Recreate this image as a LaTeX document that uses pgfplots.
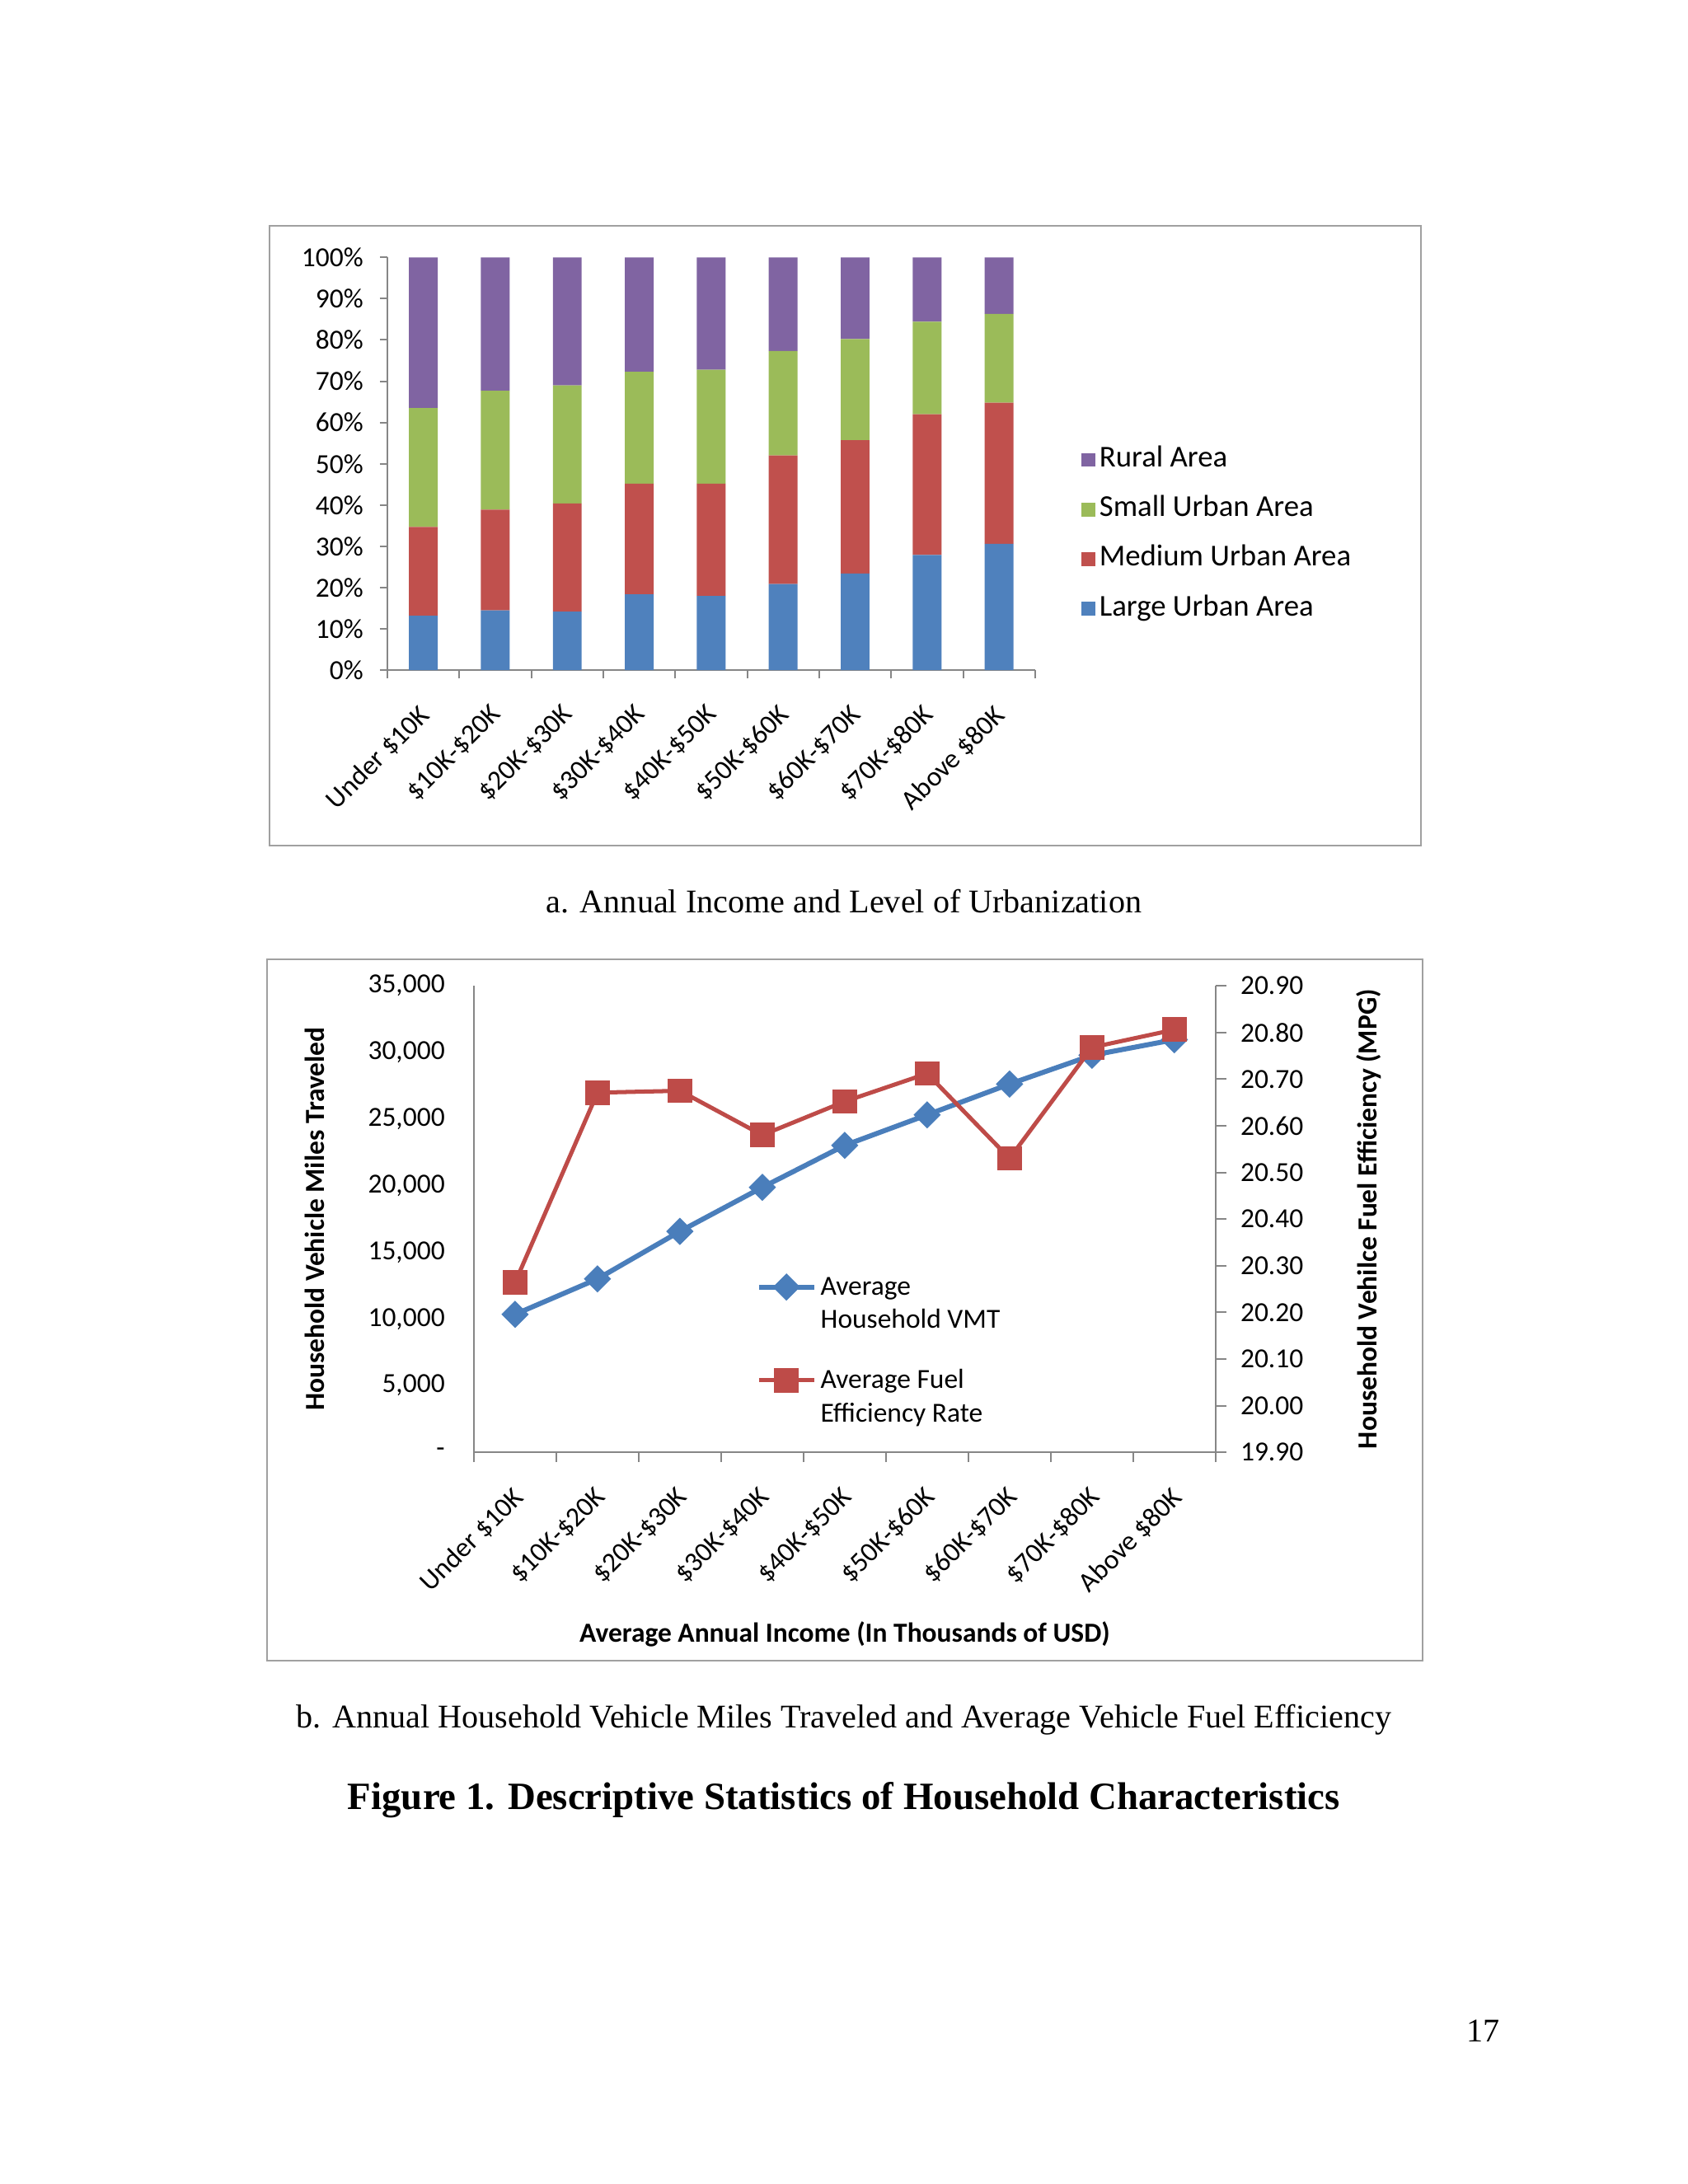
\documentclass[border=0pt]{standalone}
\usepackage{fontspec}
\setmainfont{Liberation Serif}
\newfontfamily\calibri{Carlito}
\usepackage{pgfplots}
\usepackage{pgfplotstable}
\pgfplotsset{compat=1.18}

\definecolor{large}{HTML}{4F81BD}
\definecolor{medium}{HTML}{C0504D}
\definecolor{small}{HTML}{9BBB59}
\definecolor{rural}{HTML}{8064A2}
\definecolor{vmt}{HTML}{4A7EBB}
\definecolor{mpg}{HTML}{BE4B48}
\definecolor{axisgray}{HTML}{868686}
\definecolor{framegray}{HTML}{A0A0A0}

% share of households by level of urbanization (percent)
\pgfplotstableread{
idx large medium small rural
0 13.2 21.5 28.8 36.5
1 14.5 24.4 28.8 32.3
2 14.2 26.2 28.6 31.0
3 18.4 26.8 27.1 27.7
4 18.0 27.2 27.6 27.2
5 20.9 31.1 25.3 22.7
6 23.4 32.3 24.5 19.8
7 27.9 34.1 22.4 15.6
8 30.6 34.2 21.5 13.7
}\urban

% average household VMT and fuel efficiency
\pgfplotstableread{
idx vmt mpg
0 10350 20.264
1 13010 20.671
2 16575 20.675
3 19880 20.580
4 23030 20.652
5 25320 20.712
6 27630 20.530
7 29790 20.768
8 30960 20.806
}\travel

\def\incomes{Under \$10K,\$10K-\$20K,\$20K-\$30K,\$30K-\$40K,\$40K-\$50K,\$50K-\$60K,\$60K-\$70K,\$70K-\$80K,Above \$80K}

\pgfplotsset{
  chartbase/.style={
    scale only axis,
    anchor=south west,
    xmin=-0.5, xmax=8.5,
    font=\calibri\fontsize{10}{12}\selectfont,
    /pgf/number format/assume math mode=true,
    scaled y ticks=false,
    axis line style={axisgray, line width=0.6pt},
    tick style={axisgray, line width=0.6pt},
    tick align=outside,
    xtick={0,...,8},
    minor xtick={-0.5,0.5,...,8.5},
    major x tick style={draw=none},
    legend style={draw=none, fill=none},
    legend cell align=left,
  },
  vmtstyle/.style={vmt, line width=1.8pt, mark=square*, mark size=2.6pt, mark options={rotate=45}},
  mpgstyle/.style={mpg, line width=1.5pt, mark=square*, mark size=3.7pt},
}

\begin{document}
\begin{tikzpicture}
\fill[white] (0pt,0pt) rectangle (612pt,792pt);

% chart frames
\draw[framegray, line width=0.6pt] (97.72pt,485.30pt) rectangle (515.18pt,710.02pt);
\draw[framegray, line width=0.6pt] (96.97pt,189.76pt) rectangle (515.78pt,444.06pt);

% a. stacked bars
\begin{axis}[
  chartbase,
  at={(140.45pt,548.95pt)},
  width=234.88pt, height=149.71pt,
  ybar stacked, bar width=0.4,
  ymin=0, ymax=100,
  axis x line*=bottom, axis y line*=left,
  xticklabels/.expand once={\incomes},
  x tick label style={xshift=-2.2pt, yshift=-9pt, rotate=45, anchor=north east, inner sep=0pt},
  ytick={0,10,...,100},
  yticklabel={\pgfmathprintnumber{\tick}\%},
  y tick label style={xshift=-2.5pt},
  major tick length=2.7pt, minor tick length=3pt,
  reverse legend,
  legend style={at={(1.058,0.329)}, anchor=west,
    font=\calibri\fontsize{11}{13}\selectfont,
    nodes={inner sep=0pt, text height=7pt, text depth=2pt},
    row sep=9pt, column sep=1.5pt},
  legend image code/.code={\fill[#1] (0pt,-2.5pt) rectangle (5pt,2.5pt);},
]
\addplot[fill=large, draw=none] table[x=idx, y=large]{\urban};
\addlegendentry{Large Urban Area}
\addplot[fill=medium, draw=none] table[x=idx, y=medium]{\urban};
\addlegendentry{Medium Urban Area}
\addplot[fill=small, draw=none] table[x=idx, y=small]{\urban};
\addlegendentry{Small Urban Area}
\addplot[fill=rural, draw=none] table[x=idx, y=rural]{\urban};
\addlegendentry{Rural Area}
\end{axis}

% b. VMT (left axis)
\begin{axis}[
  chartbase,
  at={(171.83pt,265.36pt)},
  width=268.95pt, height=169.13pt,
  ymin=0, ymax=35000,
  axis x line*=bottom, axis y line*=left,
  xticklabels/.expand once={\incomes},
  x tick label style={xshift=-1.5pt, yshift=-11.8pt, rotate=45, anchor=north east, inner sep=0pt},
  ytick={0,5000,...,35000},
  yticklabels={-\hspace{11pt},{5,000},{10,000},{15,000},{20,000},{25,000},{30,000},{35,000}},
  y tick label style={xshift=-7pt},
  major y tick style={draw=none},
  major tick length=0pt, minor tick length=3.6pt,
  xlabel={\bfseries Average Annual Income (In Thousands of USD)},
  xlabel style={at={(axis description cs:0.5,-0.390)}, anchor=center},
  ylabel={\bfseries Household Vehicle Miles Traveled},
  ylabel style={at={(axis description cs:-0.214,0.5)}, anchor=center},
]
\addplot[vmtstyle] table[x=idx, y=vmt]{\travel};
\end{axis}

% b. fuel efficiency (right axis)
\begin{axis}[
  chartbase,
  at={(171.83pt,265.36pt)},
  width=268.95pt, height=169.13pt,
  ymin=19.9, ymax=20.9,
  axis x line=none, axis y line*=right,
  xticklabels={},
  ytick={19.9,20.0,20.1,20.2,20.3,20.4,20.5,20.6,20.7,20.8,20.9},
  yticklabels={19.90,20.00,20.10,20.20,20.30,20.40,20.50,20.60,20.70,20.80,20.90},
  y tick label style={xshift=1.5pt},
  major tick length=4pt,
  ylabel={\bfseries Household Vehilce Fuel Efficiency (MPG)},
  ylabel style={at={(axis description cs:1.207,0.5)}, anchor=center},
  legend style={at={(0.369,0.467)}, anchor=north west,
    nodes={inner sep=0pt, text height=19.9pt, text depth=13.9pt},
    row sep=0pt, column sep=1.5pt},
  legend image code/.code={\draw[mark repeat=2, mark phase=2, #1] plot coordinates {(0pt,0pt) (10pt,0pt) (20pt,0pt)};},
]
\addlegendimage{vmtstyle}
\addlegendentry{\begin{tabular}[t]{@{}l@{}}Average\\Household VMT\end{tabular}}
\addplot[mpgstyle] table[x=idx, y=mpg]{\travel};
\addlegendentry{\begin{tabular}[t]{@{}l@{}}Average Fuel\\Efficiency Rate\end{tabular}}
\end{axis}

% captions
\node[anchor=base, font=\fontsize{12}{14}\selectfont] at (306pt,461.1pt) {a. Annual Income and Level of Urbanization};
\node[anchor=base, font=\fontsize{12}{14}\selectfont] at (306pt,165.5pt) {b. Annual Household Vehicle Miles Traveled and Average Vehicle Fuel Efficiency};
\node[anchor=base, font=\fontsize{14}{16}\selectfont\bfseries] at (306pt,135.9pt) {Figure 1. Descriptive Statistics of Household Characteristics};
\node[anchor=base east, inner sep=0pt, font=\fontsize{12}{14}\selectfont] at (543.9pt,51.7pt) {17};
\end{tikzpicture}
\end{document}
